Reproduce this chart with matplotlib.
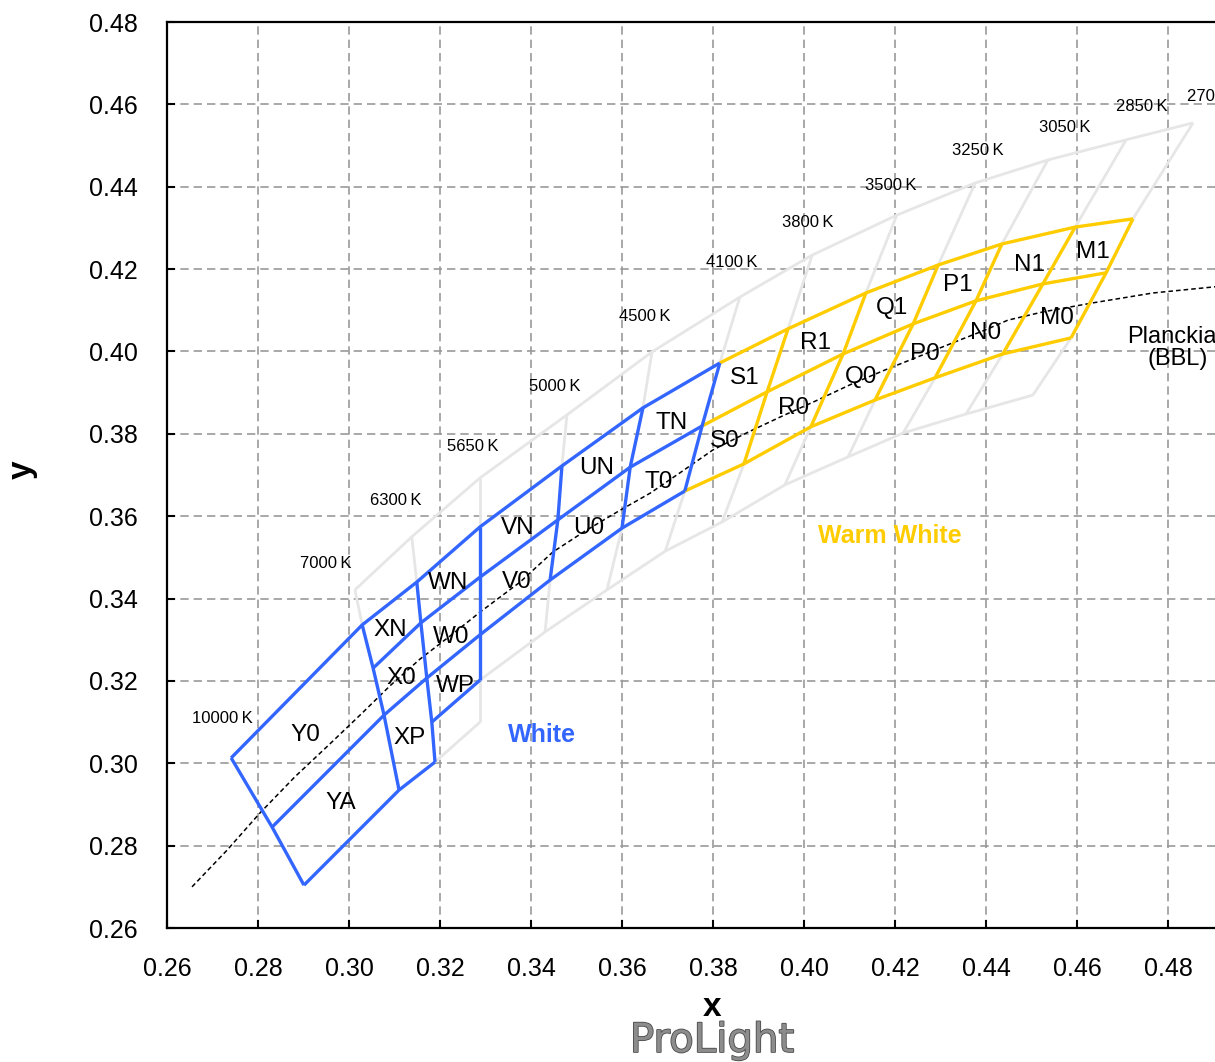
import numpy as np
import matplotlib
matplotlib.use('Agg')
import matplotlib.pyplot as plt
import matplotlib.patheffects as pe

plt.rcParams['font.family'] = ['Liberation Sans', 'DejaVu Sans']

# CCT boundaries (columns of the bin grid)
cct_labels = ['10000\u2009K', '7000\u2009K', '6300\u2009K', '5650\u2009K', '5000\u2009K',
              '4500\u2009K', '4100\u2009K', '3800\u2009K', '3500\u2009K', '3250\u2009K',
              '3050\u2009K', '2850\u2009K', '2700\u2009K']
cct_lab_x = [0.2721, 0.2949, 0.3103, 0.3273, 0.3453, 0.3651, 0.3842, 0.4009,
             0.4191, 0.4382, 0.4574, 0.4743, 0.4899]
cct_lab_y = [0.3108, 0.3486, 0.3639, 0.3770, 0.3916, 0.4084, 0.4215, 0.4312,
             0.4402, 0.4487, 0.4543, 0.4596, 0.4620]

nan = np.nan
# grid levels, one point per column (nan = no point)
L0_x = [nan, 0.3013, 0.3138, 0.3288, 0.3479, 0.3666, 0.3859, 0.4018, 0.4204, 0.4376, 0.4536, 0.4708, 0.4855]
L0_y = [nan, 0.3421, 0.3550, 0.3693, 0.3846, 0.3999, 0.4132, 0.4234, 0.4331, 0.4409, 0.4465, 0.4514, 0.4555]
L1_x = [0.2741, 0.3029, 0.3149, 0.3288, 0.3468, 0.3646, 0.3815, 0.3965, 0.4136, 0.4295, 0.4435, 0.4596, 0.4723]
L1_y = [0.3013, 0.3336, 0.3440, 0.3574, 0.3722, 0.3863, 0.3972, 0.4055, 0.4142, 0.4210, 0.4261, 0.4302, 0.4322]
L2_x = [nan, 0.3053, 0.3158, 0.3288, 0.3459, 0.3618, 0.3776, 0.3919, 0.4086, 0.4240, 0.4378, 0.4525, 0.4664]
L2_y = [nan, 0.3231, 0.3341, 0.3452, 0.3591, 0.3719, 0.3819, 0.3902, 0.3994, 0.4067, 0.4123, 0.4164, 0.4191]
L3_x = [0.2831, 0.3077, 0.3171, 0.3288, 0.3442, 0.3600, 0.3738, 0.3868, 0.4015, 0.4156, 0.4288, 0.4437, 0.4587]
L3_y = [0.2845, 0.3117, 0.3207, 0.3312, 0.3445, 0.3571, 0.3661, 0.3727, 0.3817, 0.3882, 0.3936, 0.3994, 0.4033]
L4_x = [nan, nan, 0.3182, 0.3288, 0.3431, 0.3567, 0.3695, 0.3820, 0.3958, 0.4097, 0.4218, 0.4356, 0.4503]
L4_y = [nan, nan, 0.3100, 0.3202, 0.3319, 0.3421, 0.3515, 0.3586, 0.3676, 0.3744, 0.3802, 0.3848, 0.3894]
L5_x = [0.2901, 0.3110, 0.3189, 0.3288]
L5_y = [0.2704, 0.2935, 0.3003, 0.3100]

# Planckian locus
bbl_x = [0.2655, 0.2732, 0.2804, 0.2881, 0.2958, 0.3029, 0.3090, 0.3156, 0.3222, 0.3288,
         0.3376, 0.3448, 0.3519, 0.3589, 0.3662, 0.3727, 0.3800, 0.3877, 0.3952, 0.4026,
         0.4101, 0.4178, 0.4255, 0.4327, 0.4398, 0.4448, 0.4525, 0.4635, 0.4767, 0.4903, 0.5000]
bbl_y = [0.2700, 0.2789, 0.2879, 0.2967, 0.3047, 0.3122, 0.3188, 0.3253, 0.3309, 0.3367,
         0.3440, 0.3513, 0.3564, 0.3610, 0.3656, 0.3705, 0.3761, 0.3804, 0.3843, 0.3880,
         0.3919, 0.3955, 0.3989, 0.4021, 0.4052, 0.4076, 0.4096, 0.4118, 0.4142, 0.4157, 0.4165]

bin_names = ['Y0', 'YA', 'XN', 'X0', 'XP', 'WN', 'W0', 'WP', 'VN', 'V0', 'UN', 'U0',
             'TN', 'T0', 'S1', 'S0', 'R1', 'R0', 'Q1', 'Q0', 'P1', 'P0', 'N1', 'N0', 'M1', 'M0']
bin_x = [0.2905, 0.2982, 0.3090, 0.3114, 0.3134, 0.3218, 0.3224, 0.3233, 0.3371, 0.3369,
         0.3545, 0.3527, 0.3708, 0.3681, 0.3870, 0.3826, 0.4026, 0.3976, 0.4193, 0.4125,
         0.4338, 0.4266, 0.4495, 0.4400, 0.4635, 0.4556]
bin_y = [0.3069, 0.2904, 0.3324, 0.3207, 0.3061, 0.3438, 0.3307, 0.3188, 0.3571, 0.3440,
         0.3717, 0.3571, 0.3826, 0.3683, 0.3936, 0.3783, 0.4021, 0.3863, 0.4106, 0.3938,
         0.4161, 0.3994, 0.4210, 0.4045, 0.4242, 0.4081]

BLUE = '#3366FF'
YELLOW = '#FFCC00'
GRAY = '#E6E6E6'

levels = {0: (L0_x, L0_y), 1: (L1_x, L1_y), 2: (L2_x, L2_y),
          3: (L3_x, L3_y), 4: (L4_x, L4_y), 5: (L5_x, L5_y)}


def row_line(ax, lev, c0, c1, color, lw, z):
    xs, ys = levels[lev]
    ax.plot(xs[c0:c1 + 1], ys[c0:c1 + 1], color=color, lw=lw, zorder=z,
            solid_joinstyle='miter', solid_capstyle='butt')


def col_line(ax, col, levs, color, lw, z):
    xs = [levels[l][0][col] for l in levs]
    ys = [levels[l][1][col] for l in levs]
    ax.plot(xs, ys, color=color, lw=lw, zorder=z,
            solid_joinstyle='miter', solid_capstyle='butt')


fig = plt.figure(figsize=(12.15, 10.62), dpi=100)
ax = fig.add_axes([167 / 1215, 134 / 1062, 1092 / 1215, 906 / 1062])
ax.set_xlim(0.26, 0.50)
ax.set_ylim(0.26, 0.48)
ax.set_xticks(np.arange(0.26, 0.485, 0.02))
ax.set_yticks(np.arange(0.26, 0.485, 0.02))
ax.xaxis.set_major_formatter(matplotlib.ticker.FormatStrFormatter('%.2f'))
ax.yaxis.set_major_formatter(matplotlib.ticker.FormatStrFormatter('%.2f'))
ax.grid(True, color='#999999', lw=1.2, linestyle=(0, (5, 3)), zorder=0)
ax.set_axisbelow(True)
ax.tick_params(direction='in', length=6, width=1.5, labelsize=18, pad=21)
for s in ax.spines.values():
    s.set_linewidth(1.6)

# gray ANSI-style grid
gw = 2.0
row_line(ax, 0, 1, 12, GRAY, gw, 1)
row_line(ax, 4, 3, 12, GRAY, gw, 1)
row_line(ax, 5, 2, 3, GRAY, gw, 1)
for c in range(1, 13):
    col_line(ax, c, [0, 1], GRAY, gw, 1)
for c in range(4, 13):
    col_line(ax, c, [3, 4], GRAY, gw, 1)
col_line(ax, 3, [4, 5], GRAY, gw, 1)

# Planckian locus
ax.plot(bbl_x, bbl_y, color='black', lw=1.1, linestyle=(0, (3, 2)), zorder=2)

# colored bins
cw = 2.4
for lev in (1, 2, 3):
    row_line(ax, lev, 6, 12, YELLOW, cw, 3)
for c in range(7, 13):
    col_line(ax, c, [1, 2, 3], YELLOW, cw, 3)
row_line(ax, 1, 0, 6, BLUE, cw, 4)
row_line(ax, 2, 1, 6, BLUE, cw, 4)
row_line(ax, 3, 0, 6, BLUE, cw, 4)
row_line(ax, 4, 2, 3, BLUE, cw, 4)
row_line(ax, 5, 0, 2, BLUE, cw, 4)
col_line(ax, 0, [1, 3, 5], BLUE, cw, 4)
col_line(ax, 1, [1, 2, 3, 5], BLUE, cw, 4)
col_line(ax, 2, [1, 2, 3, 4, 5], BLUE, cw, 4)
col_line(ax, 3, [1, 2, 3, 4], BLUE, cw, 4)
for c in (4, 5, 6):
    col_line(ax, c, [1, 2, 3], BLUE, cw, 4)

for name, bx, by in zip(bin_names, bin_x, bin_y):
    ax.text(bx, by, name, fontsize=17.5, ha='center', va='center', zorder=5)

for lab, tx, ty in zip(cct_labels, cct_lab_x, cct_lab_y):
    ax.text(tx, ty, lab, fontsize=12, ha='center', va='center', zorder=5)

ax.text(0.3424, 0.3069, 'White', color=BLUE, fontsize=18, fontweight='bold',
        ha='center', va='center', zorder=5)
ax.text(0.4189, 0.3552, 'Warm White', color=YELLOW, fontsize=18, fontweight='bold',
        ha='center', va='center', zorder=5)
ax.text(0.4822, 0.4008, 'Planckian\n(BBL)', fontsize=17, ha='center', va='center',
        linespacing=1.0, zorder=5)

fig.text(712 / 1215, 1 - 1008 / 1062, 'x', fontsize=24, fontweight='bold',
         ha='center', va='center')
fig.text(22 / 1215, 1 - 470 / 1062, 'y', fontsize=24, fontweight='bold',
         ha='center', va='center', rotation=90)
fig.text(712 / 1215, 1 - 1041 / 1062, 'ProLight', fontsize=29, color='#8c8c8c',
         family='DejaVu Sans', ha='center', va='center',
         path_effects=[pe.withStroke(linewidth=1.2, foreground='#4a4a4a')])

fig.savefig('out.png', dpi=100)
